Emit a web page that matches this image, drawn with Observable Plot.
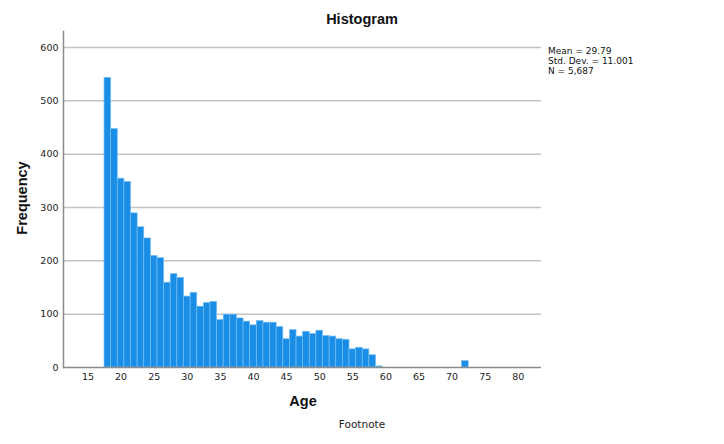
<!DOCTYPE html>
<html>
<head>
<meta charset="utf-8">
<script src="https://cdn.jsdelivr.net/npm/d3@7"></script>
<script src="https://cdn.jsdelivr.net/npm/@observablehq/plot@0.6"></script>
<style>
  html, body { margin: 0; padding: 0; background: #fff; }
  #wrap { position: relative; width: 724px; height: 444px; font-family: "Liberation Sans", Arial, sans-serif; color: #111; }
  #chart { position: absolute; left: 0; top: 0; }
  .t { position: absolute; white-space: nowrap; }
  #title { left: 362px; top: 19px; transform: translate(-50%, -50%); font-size: 14.5px; font-weight: bold; }
  #ylab { left: 22px; top: 198px; transform: translate(-50%, -50%) rotate(-90deg); font-size: 14.5px; font-weight: bold; }
  #xlab { left: 303px; top: 401px; transform: translate(-50%, -50%); font-size: 14.5px; font-weight: bold; }
  #foot { left: 362px; top: 424px; transform: translate(-50%, -50%); font-family: "DejaVu Sans", sans-serif; font-size: 10.5px; color: #222; }
  #stats { left: 548px; top: 46px; font-family: "DejaVu Sans", sans-serif; font-size: 9px; line-height: 10px; color: #111; }
</style>
</head>
<body>
<div id="wrap">
  <div id="chart"></div>
  <div class="t" id="title">Histogram</div>
  <div class="t" id="ylab">Frequency</div>
  <div class="t" id="xlab">Age</div>
  <div class="t" id="foot">Footnote</div>
  <div class="t" id="stats">Mean = 29.79<br>Std. Dev. = 11.001<br>N = 5,687</div>
</div>
<script>
const ages = [18,19,20,21,22,23,24,25,26,27,28,29,30,31,32,33,34,35,36,37,38,39,40,41,42,43,44,45,46,47,48,49,50,51,52,53,54,55,56,57,58,59,72];
const counts = [543,447,354,348,289,263,242,209,205,159,175,168,133,140,114,121,123,89,99,99,92,86,79,87,84,84,76,53,70,58,67,63,69,59,58,53,52,34,37,34,23,2,12];
const xTicks = [15,20,25,30,35,40,45,50,55,60,65,70,75,80];
const yTicks = [0,100,200,300,400,500,600];

const bins = ages.map((a, i) => ({x1: a - 0.5, x2: a + 0.5, count: counts[i]}));

const plot = Plot.plot({
  width: 724,
  height: 444,
  marginLeft: 63,
  marginRight: 183,
  marginTop: 31,
  marginBottom: 77,
  style: {fontFamily: "DejaVu Sans, sans-serif", fontSize: "9.5px", color: "#222", background: "transparent"},
  x: {domain: [11.3, 83.5], label: null},
  y: {domain: [0, 630], label: null},
  marks: [
    Plot.ruleY(yTicks.filter(d => d > 0), {stroke: "#c4c4c4", strokeWidth: 1.5}),
    Plot.rectY(bins, {x1: "x1", x2: "x2", y: "count", fill: "#1a8ee6", stroke: "#72bcf2", strokeWidth: 0.7}),
    Plot.ruleY([0], {stroke: "#8a8a8a", strokeWidth: 1.5}),
    Plot.frame({anchor: "left", stroke: "#8a8a8a", strokeWidth: 1.5}),
    Plot.axisX(xTicks, {tickSize: 0, tickPadding: 6, fill: "#222", label: null}),
    Plot.axisY(yTicks, {tickSize: 0, tickPadding: 5, fill: "#222", label: null})
  ]
});
document.getElementById("chart").appendChild(plot);
</script>
</body>
</html>
